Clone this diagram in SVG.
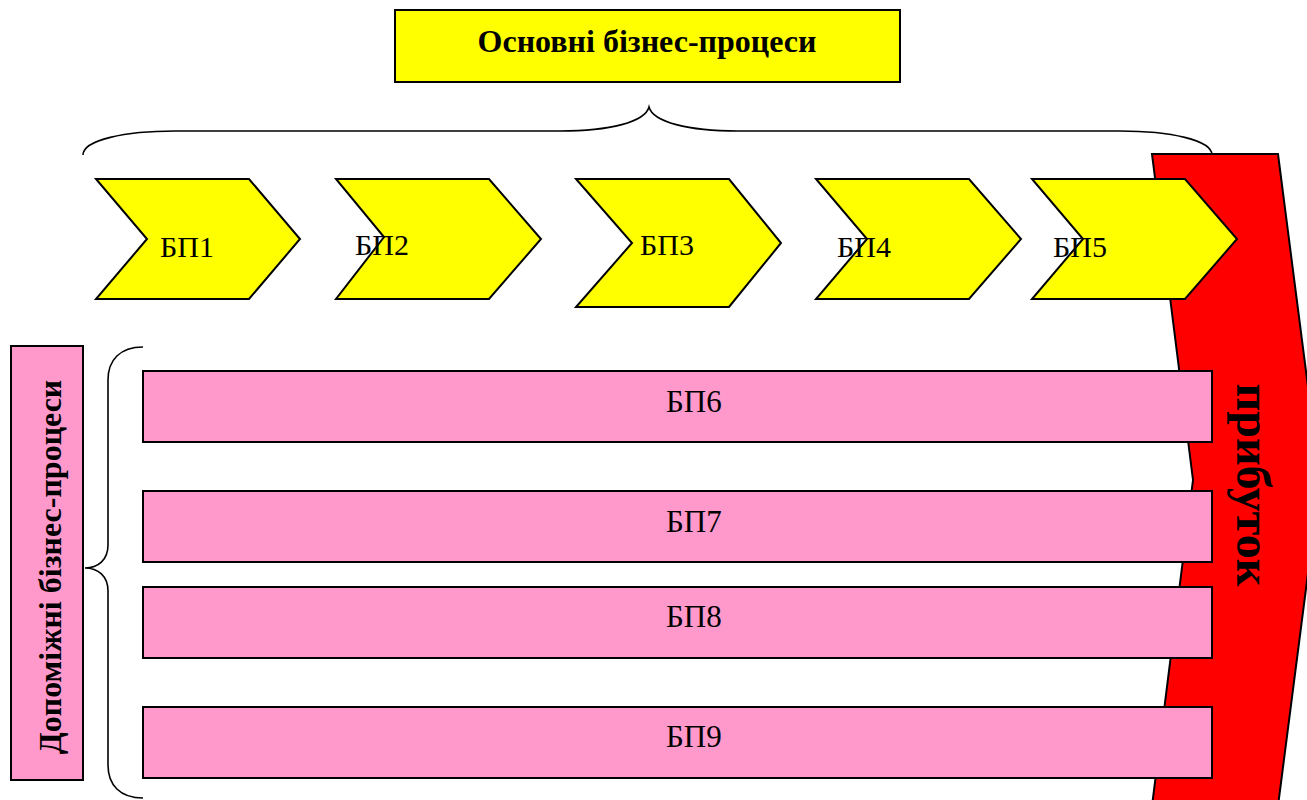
<svg xmlns="http://www.w3.org/2000/svg" width="1307" height="800" viewBox="0 0 1307 800">
  <style>
    .lbl { font-family: "Liberation Serif", "Times New Roman", serif; fill: #000; }
    .b { font-weight: bold; }
    .chev { fill: #FFFF00; stroke: #000; stroke-width: 2; stroke-linejoin: miter; }
    .bar { fill: #FF99CC; stroke: #000; stroke-width: 2; }
    .brace { fill: none; stroke: #000; stroke-width: 1.6; }
  </style>
  <rect width="1307" height="800" fill="#FFFFFF"/>

  <g id="braces">
    <path class="brace" d="M83,155 C83,140 125,131 175,131 L560,131 C610,131 645,122 649,107 C653,122 688,131 738,131 L1120,131 C1170,131 1212,140 1212,155"/>
    <path class="brace" d="M143,347 C120,347 108,360 108,380 L108,545 C108,560 98,568 85,568 C98,568 108,576 108,591 L108,765 C108,785 120,798 143,798"/>
  </g>

  <g id="title">
    <rect x="395" y="10" width="505" height="72" fill="#FFFF00" stroke="#000" stroke-width="2"/>
    <text class="lbl b" x="647" y="52" font-size="32" text-anchor="middle">Основні бізнес-процеси</text>
  </g>

  <g id="profit">
    <polygon points="1152,154 1278,154 1320,480 1278,806 1152,806 1193,480" fill="#FF0000" stroke="#000" stroke-width="2"/>
    <text class="lbl b" transform="translate(1237,485) rotate(90)" font-size="48" text-anchor="middle">прибуток</text>
  </g>

  <g id="bp1">
    <polygon class="chev" points="96,179 249,179 300,239 249,299 96,299 147,239"/>
    <text class="lbl" x="160" y="257" font-size="30">БП1</text>
  </g>
  <g id="bp2">
    <polygon class="chev" points="336,179 489,179 541,239 489,299 336,299 384,237"/>
    <text class="lbl" x="355" y="255" font-size="30">БП2</text>
  </g>
  <g id="bp3">
    <polygon class="chev" points="576,179 729,179 781,243 729,307 576,307 632,243"/>
    <text class="lbl" x="640" y="255" font-size="30">БП3</text>
  </g>
  <g id="bp4">
    <polygon class="chev" points="816,179 969,179 1021,239 969,299 816,299 867,239"/>
    <text class="lbl" x="837" y="257" font-size="30">БП4</text>
  </g>
  <g id="bp5">
    <polygon class="chev" points="1032,179 1185,179 1237,239 1185,299 1032,299 1083,239"/>
    <text class="lbl" x="1053" y="257" font-size="30">БП5</text>
  </g>

  <g id="support">
    <rect x="11" y="346" width="72" height="434" fill="#FF99CC" stroke="#000" stroke-width="2"/>
    <text class="lbl b" transform="translate(61,567) rotate(-90)" font-size="32" text-anchor="middle">Допоміжні бізнес-процеси</text>
  </g>

  <g id="bp6">
    <rect class="bar" x="143" y="371" width="1069" height="71"/>
    <text class="lbl" x="666" y="412" font-size="31">БП6</text>
  </g>
  <g id="bp7">
    <rect class="bar" x="143" y="491" width="1069" height="71"/>
    <text class="lbl" x="666" y="532" font-size="31">БП7</text>
  </g>
  <g id="bp8">
    <rect class="bar" x="143" y="587" width="1069" height="71"/>
    <text class="lbl" x="666" y="627" font-size="31">БП8</text>
  </g>
  <g id="bp9">
    <rect class="bar" x="143" y="707" width="1069" height="71"/>
    <text class="lbl" x="666" y="747" font-size="31">БП9</text>
  </g>

  <g id="connectors"></g>
</svg>
